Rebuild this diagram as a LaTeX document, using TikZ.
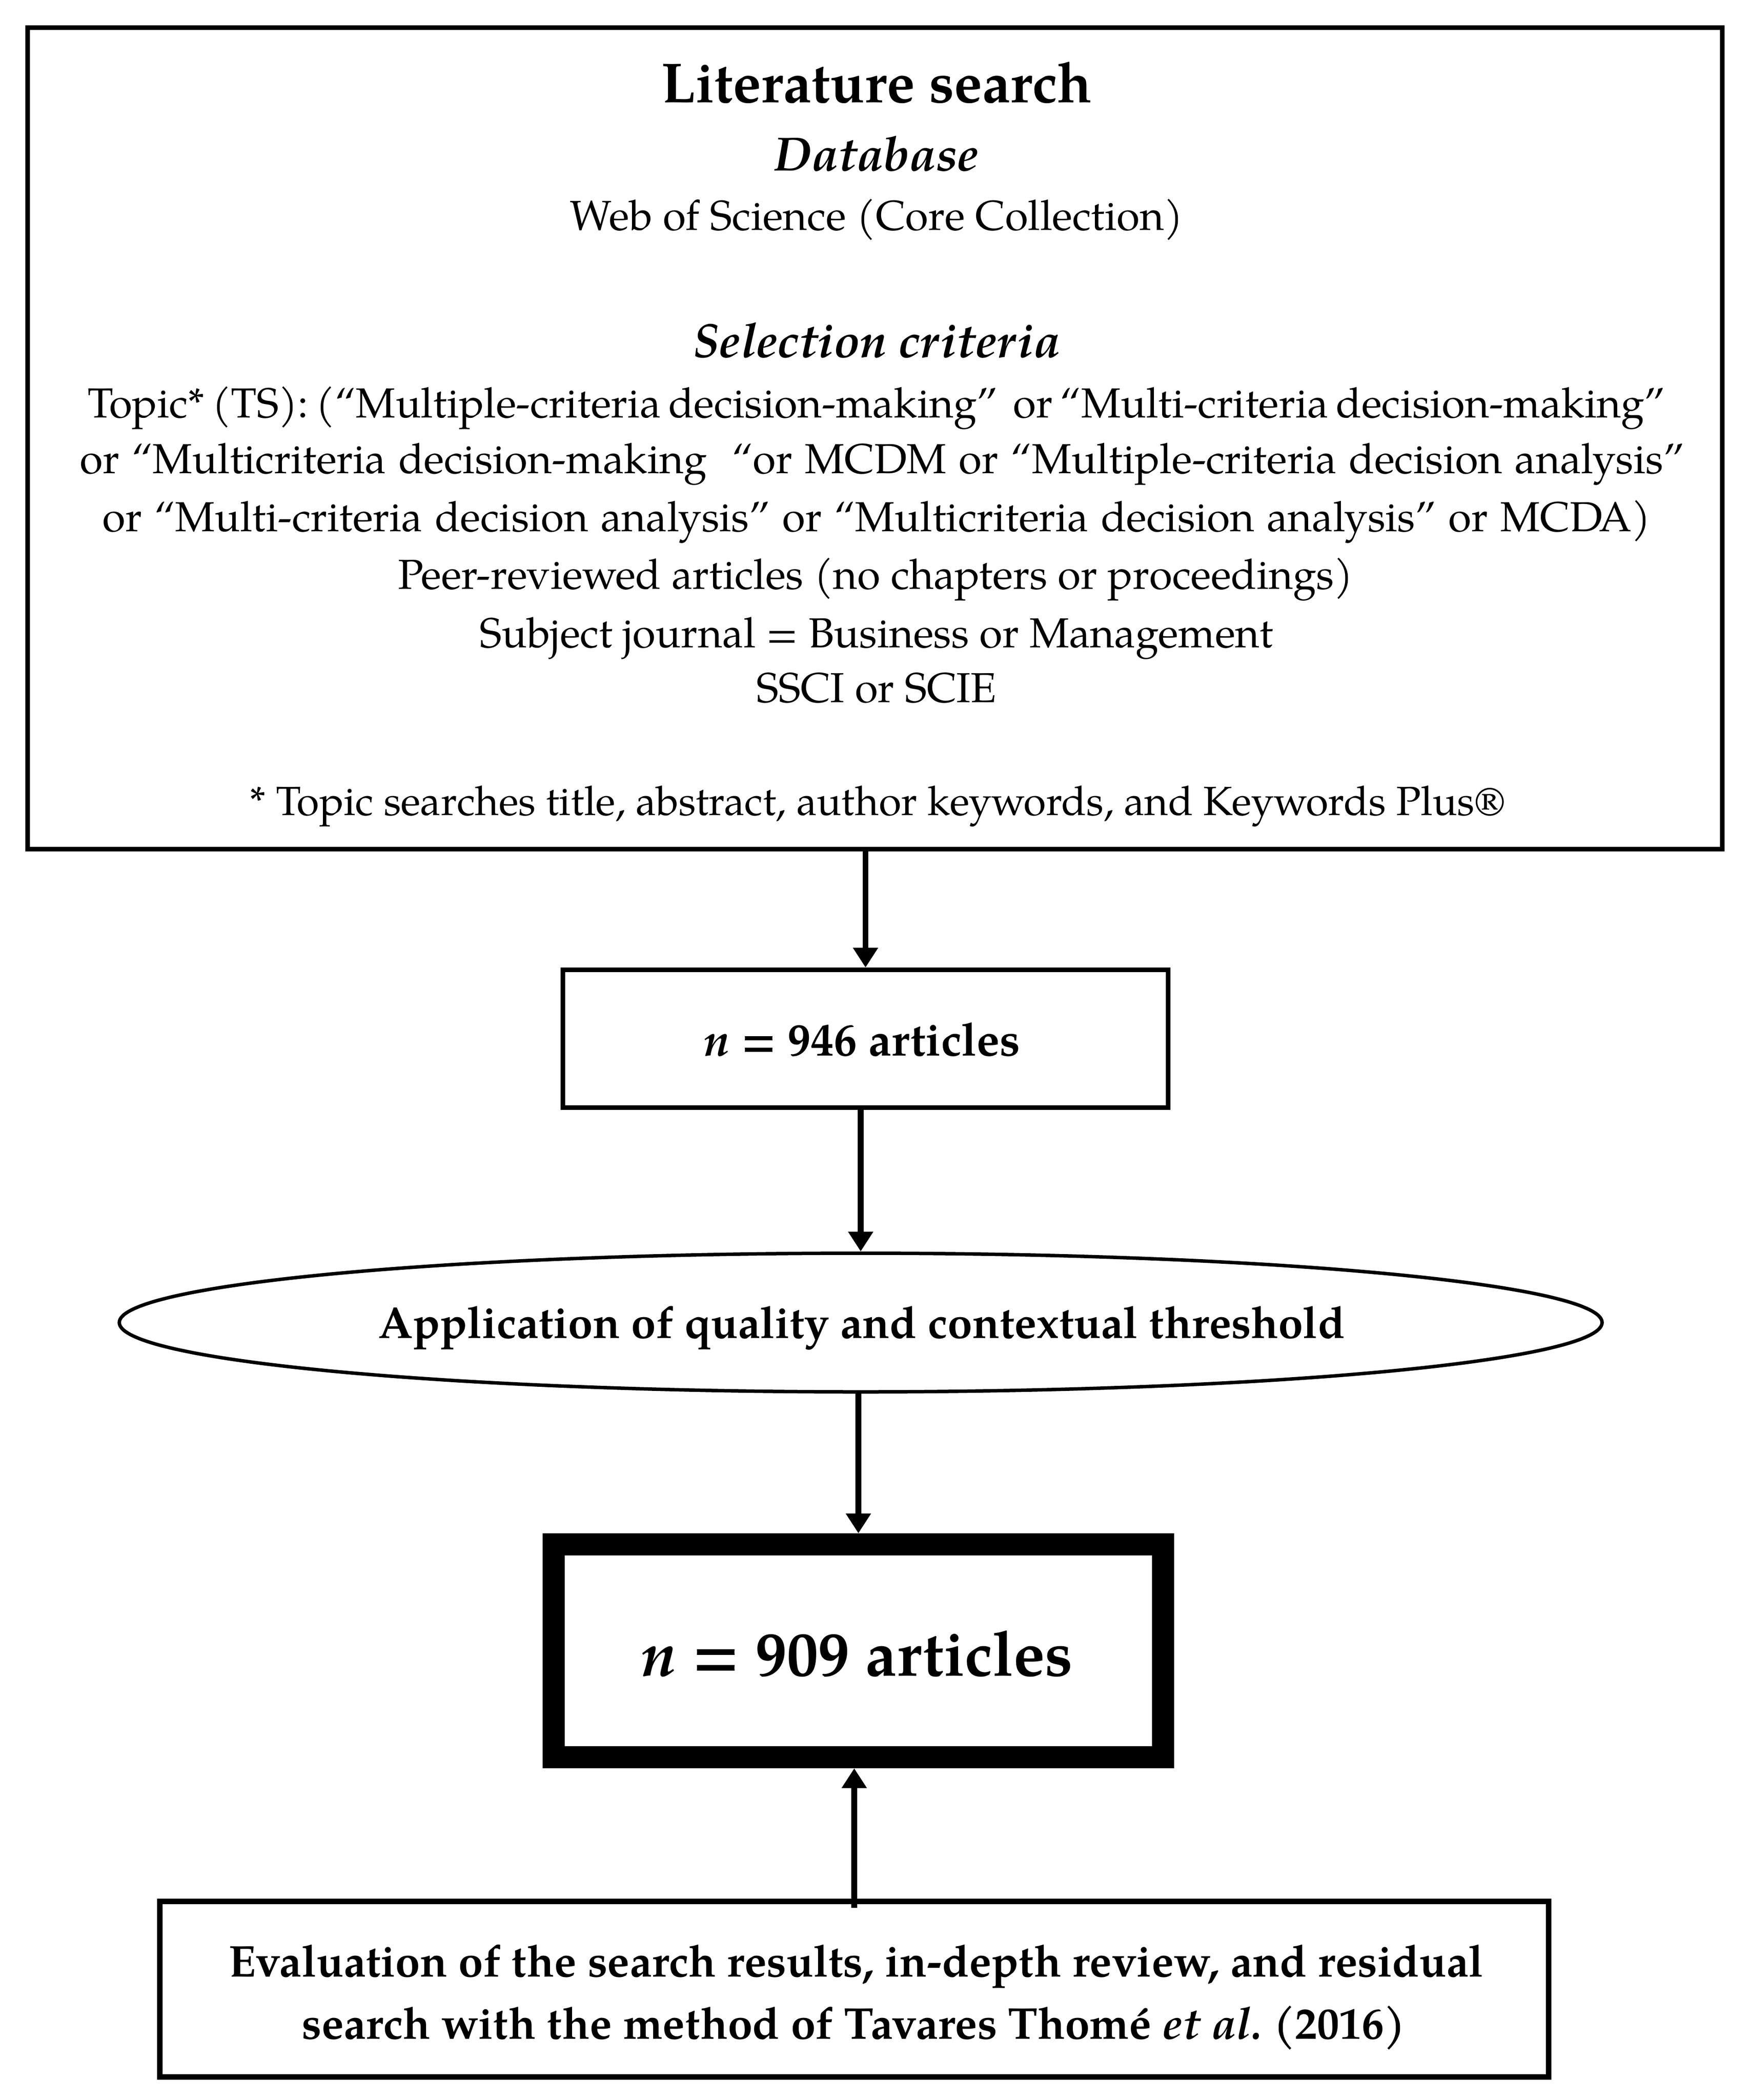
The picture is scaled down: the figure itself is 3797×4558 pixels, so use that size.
\documentclass[tikz,border=0pt]{standalone}
\usepackage{fontspec}
\setmainfont{TeX Gyre Pagella}
\usetikzlibrary{arrows.meta,shapes.geometric}
\tikzset{
  frame/.style={draw, rectangle, line width=2pt, inner sep=0pt},
  oval/.style={draw, ellipse, line width=1.5pt, inner sep=0pt},
  txt/.style={inner sep=0pt, anchor=base, font=\fontsize{18.2}{22}\selectfont},
  fntxt/.style={inner sep=0pt, anchor=base, font=\fontsize{17.7}{21}\selectfont},
  bigtxt/.style={inner sep=0pt, anchor=base, font=\fontsize{24.5}{29}\selectfont\bfseries},
  headtxt/.style={inner sep=0pt, anchor=base, font=\fontsize{20.8}{25}\selectfont\bfseries\itshape},
  boldtxt/.style={inner sep=0pt, anchor=base, font=\fontsize{19.3}{23}\selectfont\bfseries},
  midtxt/.style={inner sep=0pt, anchor=base, font=\fontsize{20}{24}\selectfont\bfseries},
  hugetxt/.style={inner sep=0pt, anchor=base, font=\fontsize{27.3}{32}\selectfont\bfseries},
  arr/.style={line width=2.5pt, -{Triangle[width=10.4pt,length=8.6pt]}},
}
\begin{document}
\begin{tikzpicture}[x=0.2pt,y=-0.2pt]
\useasboundingbox (0,0) rectangle (3797,4558);
% top box
\node[frame, minimum width=735.8pt, minimum height=356.6pt] (top) at (1899.5,951.5) {};
\node[bigtxt] (title) at (1903,222) {Literature search};
\node[headtxt] (db) at (1903,370) {Database};
\node[txt] (wos) at (1903,499) {Web of Science (Core Collection)};
\node[headtxt] (sel) at (1903,775) {Selection criteria};
\node[txt] (c1) at (1903,906) {\makebox[685pt][s]{Topic* (TS): (“Multiple-criteria decision-making”\ \ or “Multi-criteria decision-making”}};
\node[txt] (c2) at (1915,1027) {\makebox[696.6pt][s]{or “Multicriteria decision-making\ \ “or MCDM or “Multiple-criteria decision analysis”}};
\node[txt] (c3) at (1903,1153) {\makebox[672.2pt][s]{or “Multi-criteria decision analysis” or “Multicriteria decision analysis” or MCDA)}};
\node[txt] (c4) at (1901,1278) {Peer-reviewed articles (no chapters or proceedings)};
\node[txt] (c5) at (1903,1405) {Subject journal = Business or Management};
\node[txt] (c6) at (1903,1524) {SSCI or SCIE};
\node[fntxt] (fn) at (1905,1769) {* Topic searches title, abstract, author keywords, and Keywords Plus®};
% n = 946
\node[frame, minimum width=262.8pt, minimum height=59.8pt] (n946) at (1879,2254.5) {};
\node[midtxt] (t946) at (1872,2291) {\textit{n} = 946 articles};
% ellipse
\node[oval, minimum width=643.8pt, minimum height=60.2pt] (ell) at (1868.5,2870.5) {};
\node[boldtxt] (tell) at (1870.5,2904) {Application of quality and contextual threshold};
% n = 909
\node[frame, line width=9.6pt, minimum width=264.6pt, minimum height=92.4pt] (n909) at (1863.5,3583) {};
\node[hugetxt] (t909) at (1861,3637) {\textit{n} = 909 articles};
% bottom box
\node[frame, line width=2.5pt, minimum width=603pt, minimum height=76.2pt] (eval) at (1854.5,4317.5) {};
\node[boldtxt] (e1) at (1858.5,4290) {Evaluation of the search results, in-depth review, and residual};
\node[boldtxt] (e2) at (1853.5,4425) {search with the method of Tavares Thomé \textit{et al.}\ (2016)};
% arrows
\draw[arr] (top.south -| n946.north) -- (n946.north);
\draw[arr] (n946.south -| ell.north) -- (ell.north);
\draw[arr] (ell.south -| n909.north) -- (n909.north);
\draw[arr] ([yshift=-4pt]eval.north) -- (eval.north |- n909.south);
\end{tikzpicture}
\end{document}
